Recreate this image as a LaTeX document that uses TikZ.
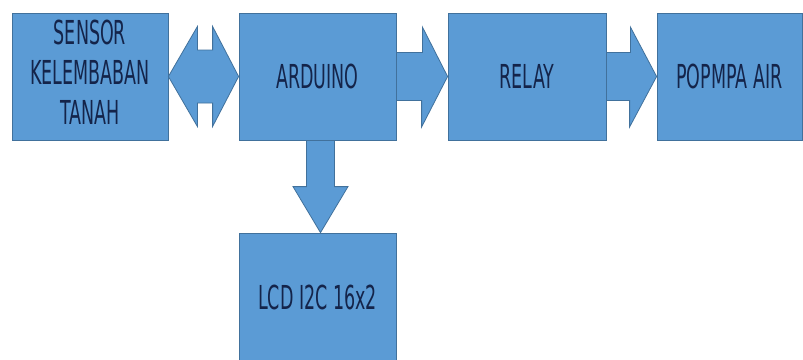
\documentclass[tikz,border=0pt]{standalone}
\usepackage{graphicx}
\usepackage{fontspec}
\setmainfont{DejaVu Sans}
\usetikzlibrary{calc}
\definecolor{bfill}{HTML}{5B9BD5}
\definecolor{bline}{HTML}{41719C}
\definecolor{btext}{HTML}{14244A}
\newcommand\narrowtext[1]{\scalebox{0.53}[1]{#1}}
\begin{document}
\begin{tikzpicture}[x=1pt,y=-1pt,
  blockbox/.style={draw=bline,fill=bfill,line width=0.8pt,text=btext,inner sep=0pt,
    font=\fontsize{33}{40}\selectfont,align=center},
  blockarrow/.style={draw=bline,fill=bfill,line width=0.8pt,line join=miter}]
\useasboundingbox (0,0) rectangle (803,359);
\clip (0,0) rectangle (803,359);
\fill[white] (0,0) rectangle (803,359);

\node[blockbox,minimum width=156pt,minimum height=127pt] (sensor) at (90,76.5)
  {\narrowtext{\begin{tabular}{@{}c@{}}SENSOR\\KELEMBABAN\\TANAH\end{tabular}}};
\node[blockbox,minimum width=157pt,minimum height=127pt] (ard) at (317.5,76.5)
  {\narrowtext{ARDUINO}};
\node[blockbox,minimum width=158pt,minimum height=127pt] (relay) at (527,76.5)
  {\narrowtext{RELAY}};
\node[blockbox,minimum width=145pt,minimum height=127pt] (pompa) at (729.5,76.5)
  {\narrowtext{POPMPA AIR}};
\node[blockbox,minimum width=157pt,minimum height=128pt] (lcd) at (317.5,297)
  {\narrowtext{LCD I2C 16x2}};

% double arrow sensor <-> arduino
\draw[blockarrow] (sensor.east) -- ++(29,-50) -- ++(0,23.5)
  -- ($(ard.west)+(-26,-26.5)$) -- ++(0,-23.5) -- (ard.west)
  -- ++(-26,50) -- ++(0,-23.5)
  -- ($(sensor.east)+(29,26.5)$) -- ++(0,23.5) -- cycle;

% arduino -> relay
\draw[blockarrow] ($(ard.east)+(0,-24)$) -- ++(26,0) -- ++(0,-25.5) -- (relay.west)
  -- ($(relay.west)+(-26,50.5)$) -- ++(0,-26.5) -- ($(ard.east)+(0,24)$) -- cycle;

% relay -> pompa
\draw[blockarrow] ($(relay.east)+(0,-24)$) -- ++(24,0) -- ++(0,-25.5) -- (pompa.west)
  -- ($(pompa.west)+(-27,50.5)$) -- ++(0,-26.5) -- ($(relay.east)+(0,24)$) -- cycle;

% arduino -> lcd
\coordinate (dtip) at ($(lcd.north)+(3,0)$);
\coordinate (dtop) at ($(ard.south)+(3,0)$);
\draw[blockarrow] ($(dtop)+(-14,0)$) -- ($(dtip)+(-14,-46)$) -- ($(dtip)+(-27.5,-46)$)
  -- (dtip) -- ($(dtip)+(27.5,-46)$) -- ($(dtip)+(14,-46)$) -- ($(dtop)+(14,0)$) -- cycle;
\end{tikzpicture}
\end{document}
